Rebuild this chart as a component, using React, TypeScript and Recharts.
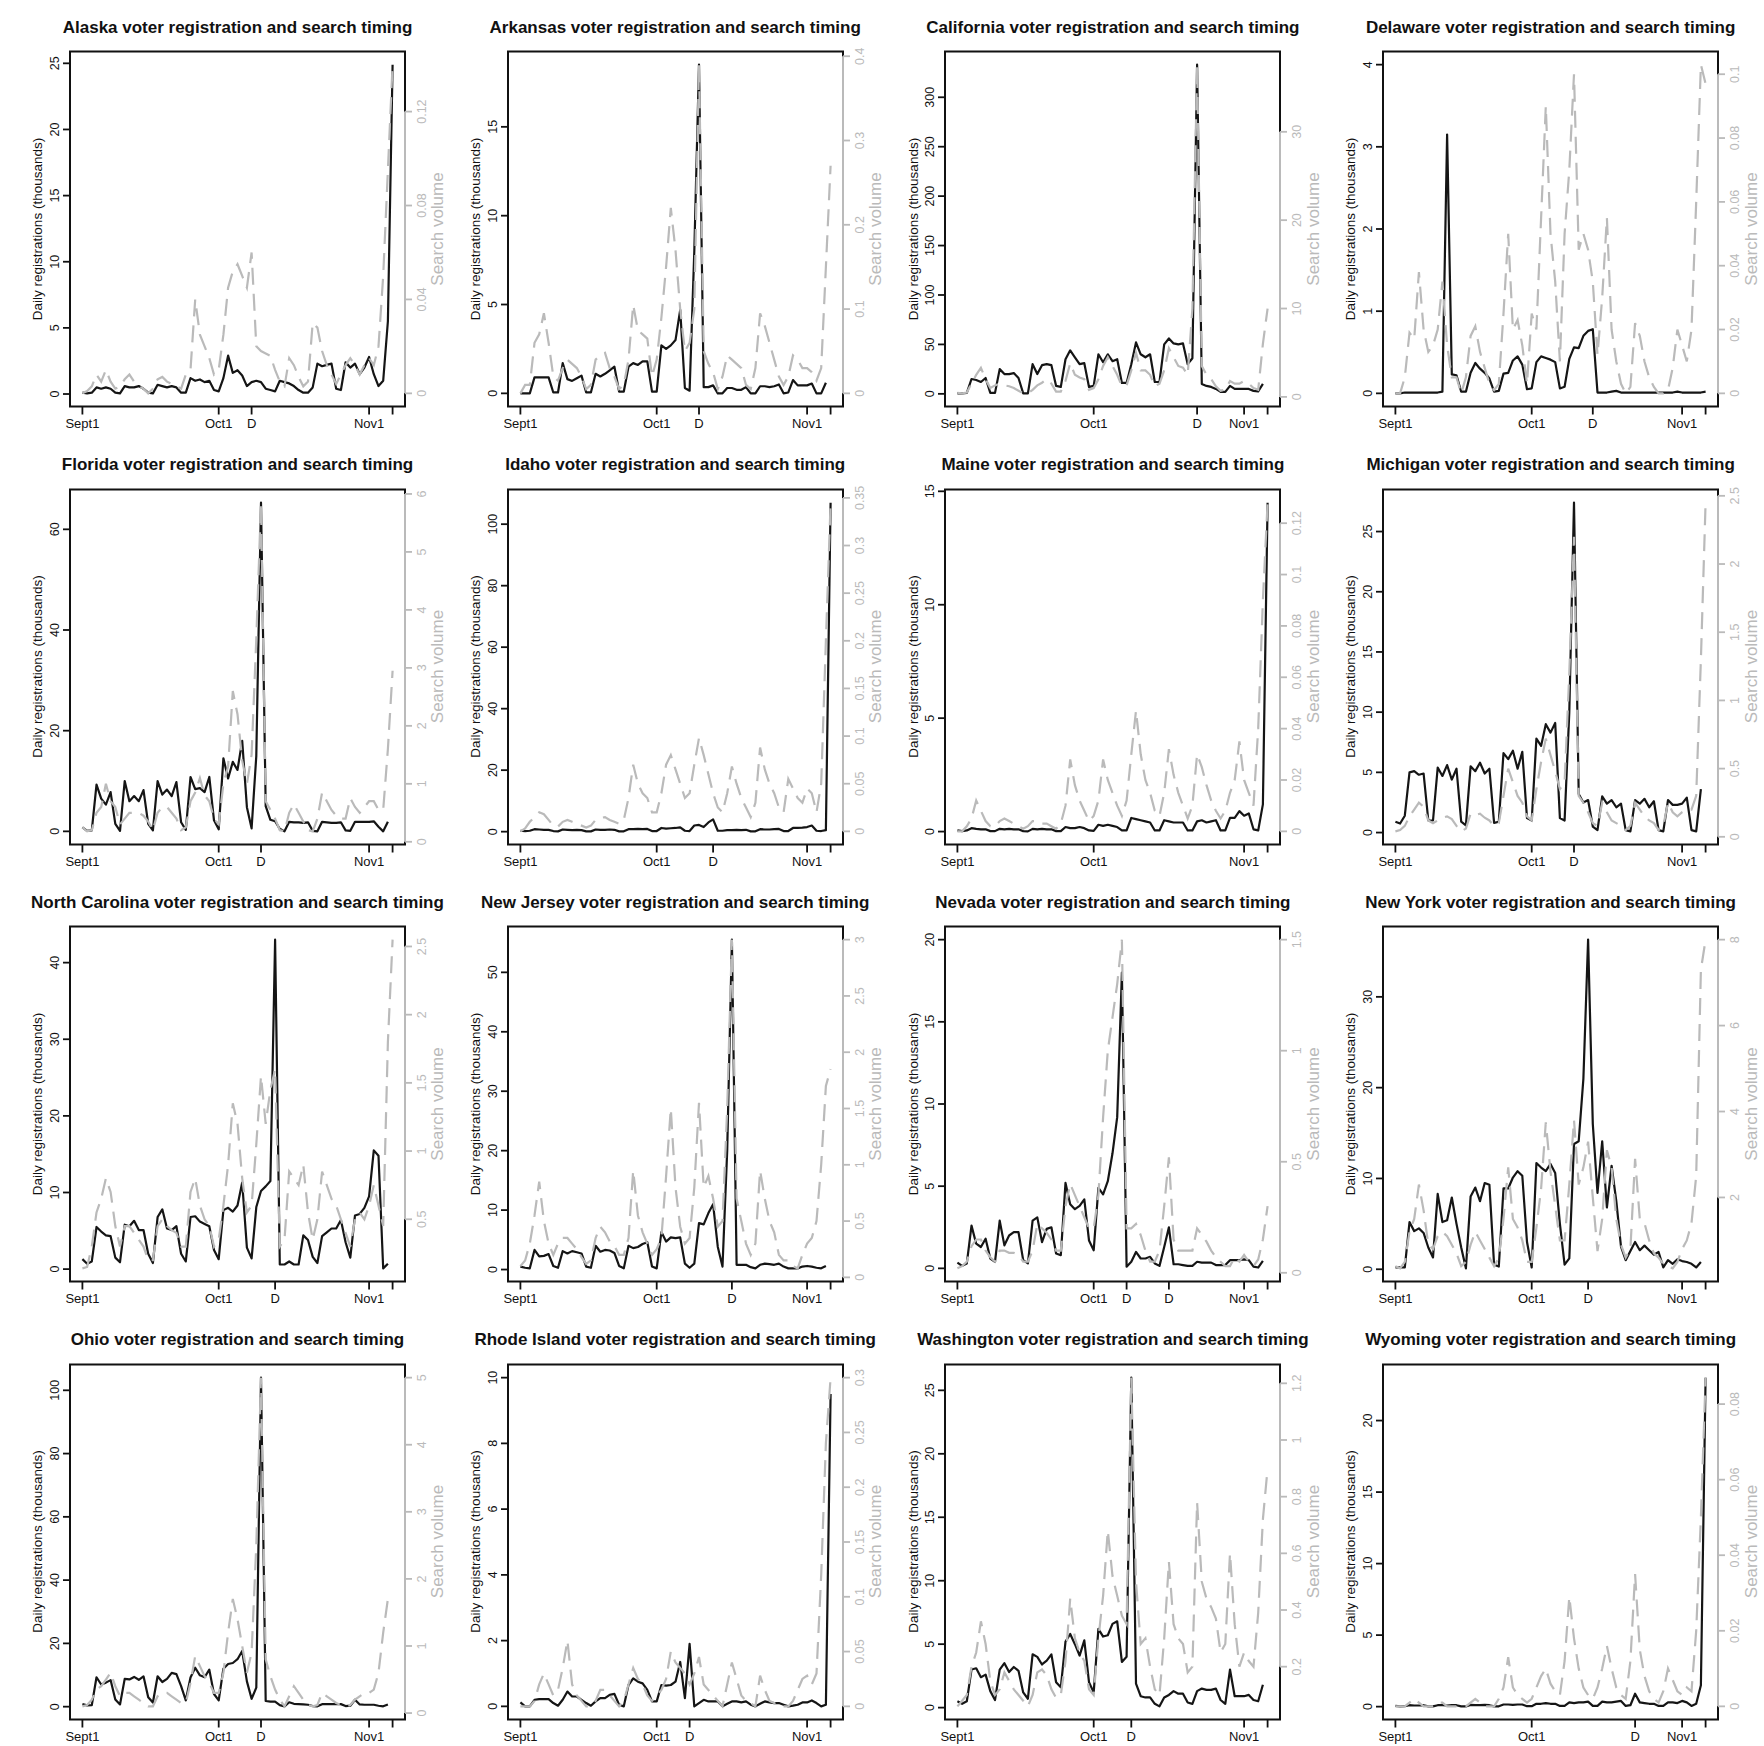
import React from 'react';
import { LineChart, Line, XAxis, YAxis, ReferenceArea, ReferenceLine } from 'recharts';

const FONT = '"Liberation Sans", Arial, Helvetica, sans-serif';
const GRAY = '#bababa';

// day index: 0 = Sept 1 ... 66 = Nov 6
const DAYS = Array.from({ length: 67 }, (_, i) => i);
const SEPT1 = 0;
const OCT1 = 29;
const NOV1 = 61;
const ELECTION = 66;

const alaskaReg = [0.1,0.05,0.1,0.5,0.4,0.5,0.4,0.1,0.05,0.6, 0.5,0.5,0.6,0.4,0.1,0.05,0.7,0.6,0.5,0.6, 0.5,0.1,0.1,1.2,1.0,1.1,0.9,1.0,0.3,0.2, 1.2,2.9,1.6,1.8,1.4,0.6,0.9,1.0,0.9,0.4, 0.3,0.2,1.0,0.9,0.8,0.6,0.3,0.1,0.1,0.5, 2.3,2.1,2.2,2.3,0.4,0.3,2.4,2.0,2.3,1.5, 2.0,2.8,1.5,0.6,1.0,5.5,24.9];
const alaskaSearch = [0,0.001,0.003,0.008,0.005,0.01,0.005,0.002,0.003,0.006, 0.008,0.005,0.003,0.002,0,0.002,0.006,0.007,0.005,0.004, 0.003,0.002,0.008,0.01,0.04,0.025,0.02,0.015,0.008,0.01, 0.025,0.045,0.052,0.055,0.05,0.045,0.06,0.02,0.018,0.017, 0.016,0.01,0.005,0.003,0.015,0.012,0.007,0.003,0.005,0.03, 0.028,0.018,0.012,0.008,0.004,0.008,0.012,0.015,0.012,0.008, 0.012,0.015,0.012,0.02,0.05,0.095,0.14];
const alaskaLeftTicks = [0, 5, 10, 15, 20, 25];
const alaskaRightTicks = [0, 0.04, 0.08, 0.12];
const alaskaDeadlines = [36];

const arkansasReg = [0,0,0,0.9,0.9,0.9,0.9,0.05,0.05,1.7, 0.8,0.7,0.85,1.0,0.05,0.05,1.1,0.95,1.1,1.3, 1.5,0.1,0.1,1.5,1.7,1.6,1.8,1.8,0.1,0.1, 2.7,2.5,2.7,3.0,4.7,0.3,0.15,8.0,18.5,0.35, 0.35,0.45,0,0,0.3,0.3,0.2,0.2,0.35,0, 0,0.4,0.4,0.35,0.4,0.5,0,0.05,0.75,0.45, 0.45,0.45,0.55,0,0,0.6,null];
const arkansasSearch = [0,0.01,0.01,0.06,0.07,0.095,0.06,0.02,0.015,0.03, 0.04,0.035,0.03,0.02,0.005,0.01,0.04,0.045,0.048,0.03, 0.02,0.005,0.01,0.04,0.105,0.075,0.07,0.065,0.02,0.04, 0.09,0.15,0.22,0.17,0.1,0.05,0.06,0.1,0.39,0.05, 0.035,0.025,0.005,0.02,0.045,0.04,0.035,0.03,0.01,0.005, 0.03,0.095,0.08,0.06,0.04,0.02,0.01,0.02,0.045,0.04, 0.03,0.03,0.025,0.015,0.03,0.15,0.27];
const arkansasLeftTicks = [0, 5, 10, 15];
const arkansasRightTicks = [0, 0.1, 0.2, 0.3, 0.4];
const arkansasDeadlines = [38];

const californiaReg = [0.5,0.5,1,15,14,12,16,1,1,25, 20,20,21,16,0.5,0.5,30,20,29,30, 29,8,7,35,44,37,30,31,7,8, 40,32,40,33,35,11,11,30,52,40, 37,40,12,12,50,56,51,50,51,30, 36,333,10,8,7,5,2,2,8,5, 5,5,5,3,2.5,10,null];
const californiaSearch = [0.45,0.4,0.5,1.5,2.5,3.3,2.0,1.0,1.3,1.5, 1.3,1.2,1.0,0.7,0.4,0.4,0.8,1.3,1.6,2.0, 1.5,0.6,0.6,1.8,3.8,2.5,2.2,2.0,0.8,1.0, 2.0,3.5,4.5,3.5,2.5,1.2,1.3,3.0,5.0,3.0, 3.0,2.5,1.2,1.5,3.0,5.5,4.5,3.5,3.3,2.5, 10,37.6,3.5,2.5,2.0,1.2,0.7,0.8,1.8,1.5, 1.5,1.8,1.5,1.0,0.8,6,10];
const californiaLeftTicks = [0, 50, 100, 150, 200, 250, 300];
const californiaRightTicks = [0, 10, 20, 30];
const californiaDeadlines = [51];

const delawareReg = [0,0,0.01,0.01,0.01,0.01,0.01,0.01,0.01,0.01, 0.02,3.15,0.23,0.22,0.02,0.02,0.25,0.37,0.3,0.25, 0.18,0.02,0.03,0.24,0.25,0.4,0.45,0.35,0.05,0.06, 0.38,0.45,0.43,0.41,0.38,0.06,0.08,0.42,0.56,0.55, 0.7,0.76,0.78,0.01,0.01,0.01,0.02,0.03,0.01,0.01, 0.01,0.01,0.01,0.01,0.01,0.01,0.01,0.01,0.01,0.01, 0.02,0.01,0.01,0.01,0.01,0.01,0.02];
const delawareSearch = [0,0,0.005,0.019,0.017,0.038,0.02,0.013,0.015,0.02, 0.035,0.015,0.005,0.005,0,0.005,0.018,0.021,0.013,0.008, 0.003,0.001,0.003,0.025,0.05,0.02,0.023,0.015,0.003,0.025, 0.02,0.055,0.09,0.05,0.035,0.01,0.05,0.07,0.1,0.045, 0.05,0.045,0.035,0.012,0.03,0.055,0.02,0.01,0.003,0, 0.002,0.022,0.018,0.01,0.005,0.002,0,0,0.001,0.008, 0.02,0.015,0.01,0.02,0.06,0.103,0.097];
const delawareLeftTicks = [0, 1, 2, 3, 4];
const delawareRightTicks = [0, 0.02, 0.04, 0.06, 0.08, 0.1];
const delawareDeadlines = [42];
const delawareLeftLimits: [number, number] = [0, 4];

const floridaReg = [0.8,0.1,0.2,9.3,6.5,5.3,7.8,1.5,0.1,10.0, 6.0,7.0,6.0,8.2,1.5,0.2,10.0,7.3,8.3,7.0, 9.8,1.8,0.3,10.8,8.4,8.6,7.8,10.8,2.2,0.4, 14.5,10.5,13.8,12.2,18.0,4.8,0.6,15,65.3,5.0, 2.3,2.0,0.5,0,1.9,1.8,1.8,1.7,1.8,0.1, 0,1.9,1.8,1.7,1.7,1.8,0.2,0.1,1.9,1.9, 1.9,1.9,2.0,0.9,0,1.9,null];
const floridaSearch = [0.25,0.18,0.2,0.5,0.6,1.0,0.7,0.6,0.3,0.4, 0.5,0.5,0.5,0.45,0.35,0.2,0.5,0.6,0.6,0.5, 0.4,0.2,0.25,0.7,0.85,1.1,0.8,0.7,0.4,0.3, 1.0,1.3,2.6,2.2,1.4,1.0,1.5,3.5,5.85,0.7, 0.55,0.4,0.2,0.18,0.5,0.65,0.5,0.35,0.2,0.18, 0.4,0.85,0.7,0.55,0.45,0.4,0.4,0.75,0.6,0.5, 0.6,0.7,0.7,0.55,0.55,1.6,2.95];
const floridaLeftTicks = [0, 20, 40, 60];
const floridaRightTicks = [0, 1, 2, 3, 4, 5, 6];
const floridaDeadlines = [38];

const idahoReg = [0.3,0.2,0.3,0.8,0.7,0.6,0.6,0.2,0.1,0.7, 0.6,0.5,0.6,0.5,0.1,0.1,0.7,0.6,0.6,0.7, 0.6,0.1,0.1,0.8,0.8,0.9,0.8,0.9,0.2,0.2, 1.2,1.0,1.1,1.2,1.4,0.3,0.2,2.0,2.2,1.5, 3.0,4.0,0.3,0.3,0.5,0.5,0.6,0.5,0.6,0.1, 0.1,0.8,0.7,0.7,0.8,0.9,0.2,0.2,1.2,1.2, 1.3,1.5,2.0,0.3,0.2,0.5,107];
const idahoSearch = [0,0.003,0.01,0.015,0.02,0.018,0.012,0.006,0.005,0.01, 0.012,0.01,0.008,0.006,0.004,0.006,0.012,0.014,0.015,0.012, 0.01,0.008,0.012,0.035,0.07,0.05,0.04,0.035,0.02,0.02, 0.04,0.07,0.08,0.065,0.05,0.035,0.04,0.07,0.098,0.08, 0.06,0.04,0.025,0.02,0.04,0.068,0.05,0.035,0.025,0.015, 0.03,0.088,0.065,0.05,0.04,0.025,0.02,0.055,0.045,0.035, 0.03,0.045,0.04,0.02,0.05,0.2,0.345];
const idahoLeftTicks = [0, 20, 40, 60, 80, 100];
const idahoRightTicks = [0, 0.05, 0.1, 0.15, 0.2, 0.25, 0.3, 0.35];
const idahoDeadlines = [41];

const maineReg = [0.05,0.02,0.05,0.15,0.12,0.1,0.1,0.02,0.02,0.12, 0.1,0.12,0.1,0.1,0.02,0.01,0.12,0.1,0.12,0.1, 0.1,0.02,0.02,0.2,0.15,0.15,0.2,0.15,0.05,0.03, 0.3,0.25,0.3,0.25,0.2,0.05,0.05,0.6,0.55,0.5, 0.45,0.4,0.05,0.05,0.5,0.45,0.4,0.4,0.4,0.05, 0.05,0.45,0.5,0.4,0.45,0.5,0.05,0.05,0.6,0.6, 0.9,0.7,0.8,0.1,0.05,1.2,14.5];
const maineSearch = [0,0,0.002,0.005,0.012,0.008,0.004,0.002,0.002,0.004, 0.005,0.004,0.003,0.002,0.001,0.002,0.004,0.004,0.003,0.003, 0.002,0.001,0.003,0.01,0.028,0.018,0.012,0.008,0.004,0.006, 0.012,0.028,0.02,0.015,0.01,0.006,0.012,0.03,0.047,0.03, 0.02,0.015,0.008,0.006,0.015,0.032,0.022,0.015,0.01,0.005, 0.01,0.03,0.025,0.018,0.012,0.008,0.005,0.008,0.015,0.02, 0.035,0.02,0.015,0.01,0.04,0.09,0.128];
const maineLeftTicks = [0, 5, 10, 15];
const maineRightTicks = [0, 0.02, 0.04, 0.06, 0.08, 0.1, 0.12];
const maineDeadlines: number[] = [];

const michiganReg = [0.9,0.75,1.4,5.0,5.1,4.8,4.9,1.0,1.0,5.4, 4.7,5.6,4.4,5.3,0.9,0.6,5.5,5.1,5.8,4.9, 5.3,0.8,0.9,6.6,6.1,6.8,5.3,6.7,1.2,1.0, 7.8,7.2,9.0,8.3,9.1,1.2,1.0,10,27.4,3.2, 2.5,2.7,0.5,0.2,3.0,2.4,2.7,2.1,2.4,0.2, 0.1,2.7,2.4,2.8,2.1,2.6,0.2,0.1,2.7,2.3, 2.3,2.4,2.9,0.2,0.1,3.6,null];
const michiganSearch = [0.04,0.05,0.08,0.15,0.2,0.25,0.22,0.12,0.1,0.12, 0.14,0.15,0.13,0.08,0.04,0.06,0.17,0.16,0.17,0.14, 0.12,0.08,0.1,0.3,0.5,0.4,0.3,0.25,0.15,0.12, 0.35,0.55,0.72,0.6,0.48,0.35,0.4,1.2,2.2,0.3, 0.25,0.18,0.1,0.08,0.25,0.18,0.12,0.1,0.08,0.05, 0.08,0.25,0.2,0.15,0.12,0.1,0.05,0.08,0.25,0.18, 0.15,0.18,0.2,0.2,0.3,1.3,2.45];
const michiganLeftTicks = [0, 5, 10, 15, 20, 25];
const michiganRightTicks = [0, 0.5, 1, 1.5, 2, 2.5];
const michiganDeadlines = [38];

const northCarolinaReg = [1.3,0.7,1.0,5.5,4.9,4.4,4.3,1.5,0.9,5.8, 5.6,6.3,5.1,5.1,2.0,0.8,6.8,7.8,5.3,5.1, 5.6,2.0,1.0,6.8,6.9,6.2,5.9,5.6,2.5,1.3, 7.7,8.0,7.5,8.3,11.3,2.8,1.4,8.1,10.2,10.8, 11.5,43,0.6,0.6,1.0,0.6,0.6,4.4,3.8,1.6, 0.8,4.3,4.8,5.3,5.3,6.4,3.5,1.5,7.0,7.2, 8.0,9.5,15.5,14.8,0.1,0.7,null];
const northCarolinaSearch = [0.14,0.15,0.3,0.55,0.65,0.8,0.7,0.45,0.3,0.45, 0.45,0.4,0.35,0.3,0.2,0.2,0.45,0.5,0.45,0.42, 0.4,0.3,0.3,0.7,0.8,0.6,0.5,0.45,0.3,0.35, 0.6,0.9,1.35,1.2,0.8,0.55,0.6,1.05,1.55,1.2, 1.45,1.6,0.3,0.35,0.85,0.8,0.75,0.9,0.55,0.35, 0.5,0.85,0.75,0.65,0.6,0.5,0.4,0.3,0.5,0.55, 0.5,0.6,0.75,0.6,0.45,1.8,2.55];
const northCarolinaLeftTicks = [0, 10, 20, 30, 40];
const northCarolinaRightTicks = [0.5, 1, 1.5, 2, 2.5];
const northCarolinaDeadlines = [41];

const newJerseyReg = [0.5,0.3,0.2,3.3,2.2,2.3,2.6,0.6,0.3,3.1, 2.7,3.1,2.9,2.7,0.5,0.3,4.0,3.0,3.3,3.2, 2.8,0.6,0.2,4.0,3.6,3.8,4.3,4.6,0.5,0.2, 6.3,4.7,5.4,5.3,5.4,1.0,0.3,1.0,7.8,7.6, 9.5,11.0,3.8,0.5,20,55.5,0.8,0.8,0.8,0.4, 0.2,0.8,1.0,0.9,0.8,1.0,0.5,0.2,0.2,0.2, 0.5,0.6,0.5,0.3,0.2,0.6,null];
const newJerseySearch = [0.1,0.15,0.3,0.55,0.85,0.5,0.3,0.2,0.3,0.35, 0.35,0.3,0.25,0.18,0.12,0.15,0.35,0.45,0.4,0.32, 0.28,0.2,0.2,0.35,0.95,0.55,0.4,0.3,0.2,0.25, 0.35,0.9,1.5,0.8,0.45,0.3,0.35,0.8,1.55,0.8, 0.9,0.7,0.45,0.5,1.5,3.0,0.7,0.5,0.3,0.2, 0.3,0.95,0.7,0.5,0.4,0.2,0.15,0.15,0.1,0.08, 0.2,0.3,0.35,0.5,1.0,1.7,1.85];
const newJerseyLeftTicks = [0, 10, 20, 30, 40, 50];
const newJerseyRightTicks = [0, 0.5, 1, 1.5, 2, 2.5, 3];
const newJerseyDeadlines = [45];

const nevadaReg = [0.35,0.15,0.3,2.6,1.5,1.3,1.8,0.6,0.4,2.9, 1.4,2.0,2.2,2.2,0.5,0.3,2.9,3.1,1.6,2.4, 2.5,0.9,0.8,5.2,3.9,3.6,3.8,4.2,1.7,1.1, 4.9,4.5,5.3,7.0,9.2,18.0,0.1,0.4,1.0,0.6, 0.6,0.7,0.3,0.15,1.3,2.5,0.25,0.25,0.2,0.15, 0.15,0.4,0.35,0.35,0.35,0.2,0.2,0.2,0.5,0.5, 0.5,0.55,0.5,0.1,0.05,0.45,null];
const nevadaSearch = [0.02,0.03,0.05,0.12,0.15,0.15,0.1,0.07,0.05,0.1, 0.1,0.09,0.09,0.08,0.05,0.05,0.1,0.22,0.2,0.18, 0.15,0.1,0.1,0.3,0.4,0.35,0.3,0.25,0.2,0.2, 0.35,0.7,1.0,1.15,1.3,1.5,0.2,0.2,0.22,0.17, 0.1,0.05,0.05,0.1,0.3,0.52,0.15,0.1,0.1,0.1, 0.1,0.2,0.17,0.14,0.1,0.07,0.05,0.03,0.03,0.07, 0.05,0.08,0.05,0.03,0.06,0.15,0.3];
const nevadaLeftTicks = [0, 5, 10, 15, 20];
const nevadaRightTicks = [0, 0.5, 1, 1.5];
const nevadaDeadlines = [36, 45];
const nevadaLeftLimits: [number, number] = [0, 20];

const newYorkReg = [0.2,0.2,0.2,5.2,4.2,4.5,4.0,2.4,1.3,8.3, 5.2,5.4,7.9,5.0,2.4,0.1,8.0,9.0,7.5,9.5, 9.3,0.5,0.3,8.9,8.9,10.1,10.8,10.3,3.0,0.2, 11.7,11.2,10.8,11.6,10.6,5.0,0.5,1.2,13.8,14.1, 21.0,36.3,16.0,8.4,14.1,6.8,11.4,7.5,2.5,1.0, 2.0,3.0,2.1,2.6,2.1,1.6,1.9,0.2,1.0,0.6, 1.1,0.9,0.8,0.6,0.2,0.8,null];
const newYorkSearch = [0.4,0.35,0.5,1.2,1.5,2.3,1.7,0.9,0.8,1.1, 1.2,1.1,0.9,0.7,0.4,0.5,0.9,1.2,1.0,0.8, 0.6,0.4,0.6,1.5,2.7,1.5,1.3,1.0,0.5,0.5, 1.3,2.2,3.75,2.6,1.8,1.0,1.0,2.3,3.8,2.3, 2.7,3.3,2.0,0.75,1.5,3.1,2.7,1.5,0.9,0.6, 0.8,2.9,1.5,1.4,1.0,0.7,0.6,0.45,0.4,0.35, 0.5,0.8,1.0,1.4,2.5,7.3,8.0];
const newYorkLeftTicks = [0, 10, 20, 30];
const newYorkRightTicks = [2, 4, 6, 8];
const newYorkDeadlines = [41];

const ohioReg = [0.8,0.4,0.5,9.3,7.0,7.6,8.4,2.3,0.7,8.8, 8.6,9.4,8.5,9.6,3.0,1.3,9.6,7.8,8.8,10.7, 10.3,6.5,2.0,9.2,12.3,9.9,9.3,11.7,4.0,2.0, 12.0,13.5,13.8,15.0,17.6,8.0,2.5,6.0,104,1.8, 1.6,1.6,0.5,0.1,1.4,0.9,0.8,0.7,0.6,0.2, 0.1,0.8,0.8,0.8,0.8,0.8,0.2,0.3,2.2,0.7, 0.6,0.6,0.6,0.3,0.1,0.7,null];
const ohioSearch = [0.1,0.12,0.2,0.35,0.4,0.5,0.6,0.4,0.25,0.3, 0.3,0.25,0.2,0.15,0.1,0.1,0.25,0.3,0.3,0.25, 0.2,0.15,0.15,0.45,0.85,0.7,0.55,0.45,0.3,0.3, 0.6,1.2,1.7,1.4,1.0,0.6,0.9,2.5,5.0,0.8, 0.55,0.35,0.2,0.1,0.25,0.4,0.3,0.2,0.12,0.1, 0.12,0.3,0.25,0.2,0.15,0.12,0.1,0.12,0.2,0.25, 0.3,0.3,0.35,0.6,1.2,1.7,null];
const ohioLeftTicks = [0, 20, 40, 60, 80, 100];
const ohioRightTicks = [0, 1, 2, 3, 4, 5];
const ohioDeadlines = [38];

const rhodeIslandReg = [0.12,0,0,0.2,0.22,0.22,0.22,0.1,0.02,0.2, 0.45,0.3,0.3,0.2,0.1,0.02,0.15,0.25,0.25,0.35, 0.38,0.05,0,0.65,0.85,0.75,0.7,0.5,0.15,0.15, 0.65,0.63,0.65,0.75,1.35,0.25,1.9,0,0.1,0.2, 0.15,0.15,0.15,0,0.08,0.15,0.15,0.12,0.15,0.05, 0,0.08,0.15,0.12,0.1,0.1,0.05,0,0.02,0.05, 0.12,0.12,0.18,0.1,0,0.05,9.5];
const rhodeIslandSearch = [0,0,0,0.005,0.02,0.03,0.02,0.01,0.015,0.035, 0.06,0.02,0.01,0.005,0,0,0.005,0.015,0.015,0.01, 0.005,0,0.005,0.02,0.035,0.025,0.02,0.01,0.005,0.01, 0.015,0.025,0.05,0.04,0.035,0.03,0.02,0.03,0.045,0.02, 0.015,0.01,0.005,0,0.02,0.04,0.025,0.01,0.005,0.003, 0,0.028,0.015,0.005,0.003,0,0,0,0.005,0.015, 0.025,0.028,0.02,0.03,0.12,0.24,0.3];
const rhodeIslandLeftTicks = [0, 2, 4, 6, 8, 10];
const rhodeIslandRightTicks = [0, 0.05, 0.1, 0.15, 0.2, 0.25, 0.3];
const rhodeIslandDeadlines = [36];
const rhodeIslandLeftLimits: [number, number] = [0, 10];

const washingtonReg = [0.5,0.3,0.5,3.0,3.1,2.4,2.6,1.3,0.6,3.0, 3.5,2.8,3.2,2.9,1.2,0.7,4.2,4.0,3.4,3.7, 4.2,2.0,1.6,5.2,5.8,5.0,4.1,5.3,2.0,1.2, 6.2,5.6,5.7,6.6,6.8,3.6,4.0,26,1.9,0.9, 0.8,0.8,0.3,0.1,0.8,1.0,1.3,1.1,1.1,0.4, 0.3,1.3,1.5,1.4,1.4,1.5,0.6,0.3,3.0,0.9, 0.9,0.9,1.0,0.6,0.5,1.8,null];
const washingtonSearch = [0.06,0.08,0.1,0.2,0.25,0.36,0.28,0.15,0.1,0.12, 0.18,0.15,0.12,0.1,0.08,0.06,0.1,0.18,0.19,0.17, 0.12,0.09,0.1,0.22,0.44,0.3,0.25,0.22,0.12,0.1, 0.3,0.45,0.68,0.52,0.45,0.38,0.35,1.22,0.5,0.28, 0.3,0.2,0.12,0.1,0.3,0.57,0.35,0.3,0.28,0.18, 0.2,0.78,0.5,0.44,0.41,0.37,0.25,0.28,0.6,0.35, 0.2,0.25,0.22,0.2,0.39,0.72,0.9];
const washingtonLeftTicks = [0, 5, 10, 15, 20, 25];
const washingtonRightTicks = [0.2, 0.4, 0.6, 0.8, 1, 1.2];
const washingtonDeadlines = [37];

const wyomingReg = [0.05,0.02,0.03,0.1,0.08,0.08,0.1,0.02,0.02,0.1, 0.1,0.08,0.1,0.1,0.02,0.02,0.12,0.1,0.1,0.12, 0.1,0.02,0.02,0.15,0.15,0.12,0.15,0.15,0.03,0.03, 0.2,0.2,0.25,0.2,0.2,0.05,0.05,0.3,0.25,0.3, 0.3,0.35,0.05,0.05,0.35,0.3,0.3,0.35,0.4,0.05, 0.1,0.9,0.3,0.25,0.2,0.2,0.05,0.05,0.3,0.3, 0.25,0.4,0.3,0.05,0.2,1.5,23];
const wyomingSearch = [0,0,0,0.001,0.002,0.001,0,0,0,0.001, 0.001,0,0,0,0,0,0.001,0.002,0.001,0, 0,0,0.002,0.005,0.013,0.005,0.003,0.002,0.001,0.002, 0.005,0.008,0.01,0.006,0.004,0.003,0.012,0.029,0.018,0.01, 0.005,0.003,0.002,0.005,0.01,0.016,0.01,0.005,0.003,0.002, 0.012,0.035,0.015,0.008,0.004,0.002,0.001,0.004,0.01,0.007, 0.004,0.003,0.005,0.004,0.02,0.05,0.087];
const wyomingLeftTicks = [0, 5, 10, 15, 20];
const wyomingRightTicks = [0, 0.02, 0.04, 0.06, 0.08];
const wyomingDeadlines = [51];

type PanelDef = {
  state: string;
  reg: (number | null)[];
  search: (number | null)[];
  leftTicks: number[];
  rightTicks: number[];
  deadlines: number[];
  leftLimits?: [number, number];
};

const PANELS: PanelDef[] = [
  { state: 'Alaska', reg: alaskaReg, search: alaskaSearch, leftTicks: alaskaLeftTicks, rightTicks: alaskaRightTicks, deadlines: alaskaDeadlines },
  { state: 'Arkansas', reg: arkansasReg, search: arkansasSearch, leftTicks: arkansasLeftTicks, rightTicks: arkansasRightTicks, deadlines: arkansasDeadlines },
  { state: 'California', reg: californiaReg, search: californiaSearch, leftTicks: californiaLeftTicks, rightTicks: californiaRightTicks, deadlines: californiaDeadlines },
  { state: 'Delaware', reg: delawareReg, search: delawareSearch, leftTicks: delawareLeftTicks, rightTicks: delawareRightTicks, deadlines: delawareDeadlines, leftLimits: delawareLeftLimits },
  { state: 'Florida', reg: floridaReg, search: floridaSearch, leftTicks: floridaLeftTicks, rightTicks: floridaRightTicks, deadlines: floridaDeadlines },
  { state: 'Idaho', reg: idahoReg, search: idahoSearch, leftTicks: idahoLeftTicks, rightTicks: idahoRightTicks, deadlines: idahoDeadlines },
  { state: 'Maine', reg: maineReg, search: maineSearch, leftTicks: maineLeftTicks, rightTicks: maineRightTicks, deadlines: maineDeadlines },
  { state: 'Michigan', reg: michiganReg, search: michiganSearch, leftTicks: michiganLeftTicks, rightTicks: michiganRightTicks, deadlines: michiganDeadlines },
  { state: 'North Carolina', reg: northCarolinaReg, search: northCarolinaSearch, leftTicks: northCarolinaLeftTicks, rightTicks: northCarolinaRightTicks, deadlines: northCarolinaDeadlines },
  { state: 'New Jersey', reg: newJerseyReg, search: newJerseySearch, leftTicks: newJerseyLeftTicks, rightTicks: newJerseyRightTicks, deadlines: newJerseyDeadlines },
  { state: 'Nevada', reg: nevadaReg, search: nevadaSearch, leftTicks: nevadaLeftTicks, rightTicks: nevadaRightTicks, deadlines: nevadaDeadlines, leftLimits: nevadaLeftLimits },
  { state: 'New York', reg: newYorkReg, search: newYorkSearch, leftTicks: newYorkLeftTicks, rightTicks: newYorkRightTicks, deadlines: newYorkDeadlines },
  { state: 'Ohio', reg: ohioReg, search: ohioSearch, leftTicks: ohioLeftTicks, rightTicks: ohioRightTicks, deadlines: ohioDeadlines },
  { state: 'Rhode Island', reg: rhodeIslandReg, search: rhodeIslandSearch, leftTicks: rhodeIslandLeftTicks, rightTicks: rhodeIslandRightTicks, deadlines: rhodeIslandDeadlines, leftLimits: rhodeIslandLeftLimits },
  { state: 'Washington', reg: washingtonReg, search: washingtonSearch, leftTicks: washingtonLeftTicks, rightTicks: washingtonRightTicks, deadlines: washingtonDeadlines },
  { state: 'Wyoming', reg: wyomingReg, search: wyomingSearch, leftTicks: wyomingLeftTicks, rightTicks: wyomingRightTicks, deadlines: wyomingDeadlines },
];

// layout
const COL_PITCH = 437.7;
const ROW_PITCH = 437.5;
const CHART_W = 437;
const CHART_H = 437;
const PLOT_LEFT = 70;
const PLOT_TOP = 51.5;
const PLOT_W = 335;
const PLOT_H = 355;
const RIGHT_AXIS_W = CHART_W - PLOT_LEFT - PLOT_W;
const X_AXIS_H = CHART_H - PLOT_TOP - PLOT_H;

// R-style 4% padding on each side of the range
function padLimits(mn: number, mx: number): [number, number] {
  const r = mx - mn;
  return [mn - 0.04 * r, mx + 0.04 * r];
}
function paddedRange(vals: (number | null)[], limits?: [number, number]): [number, number] {
  if (limits) return padLimits(limits[0], limits[1]);
  const v = vals.filter((x): x is number => x !== null && x !== undefined);
  return padLimits(Math.min(...v), Math.max(...v));
}
const X_DOMAIN: [number, number] = padLimits(SEPT1, ELECTION);

const LeftTick = (props: any) => {
  const { x, y, payload } = props;
  return (
    <text x={x} y={y} transform={`rotate(-90 ${x} ${y})`} textAnchor="middle" fontSize={12.5} fontFamily={FONT} fill="#111">
      {String(payload.value)}
    </text>
  );
};

const RightTick = (props: any) => {
  const { x, y, payload } = props;
  const bx = x + 8.8;
  return (
    <text x={bx} y={y} transform={`rotate(-90 ${bx} ${y})`} textAnchor="middle" fontSize={12.5} fontFamily={FONT} fill={GRAY}>
      {String(payload.value)}
    </text>
  );
};

function Panel({ p, col, row }: { p: PanelDef; col: number; row: number }) {
  const data = DAYS.map((d, i) => ({ d, reg: p.reg[i] ?? null, search: p.search[i] ?? null }));
  const [lmin, lmax] = paddedRange(p.reg, p.leftLimits);
  const [rmin, rmax] = paddedRange(p.search);
  const labels: Record<number, string> = { [SEPT1]: 'Sept1', [OCT1]: 'Oct1', [NOV1]: 'Nov1', [ELECTION]: '' };
  p.deadlines.forEach((d) => (labels[d] = 'D'));
  const xTicks = [SEPT1, OCT1, ...p.deadlines, NOV1, ELECTION].sort((a, b) => a - b);
  const BottomTick = (props: any) => {
    const { x, y, payload } = props;
    return (
      <text x={x} y={y + 11.6} textAnchor="middle" fontSize={13} fontFamily={FONT} fill="#111">
        {labels[payload.value] ?? ''}
      </text>
    );
  };
  const rt = p.rightTicks;
  return (
    <div style={{ position: 'absolute', left: col * COL_PITCH, top: row * ROW_PITCH }}>
      <LineChart width={CHART_W} height={CHART_H} data={data} margin={{ top: PLOT_TOP, right: 0, bottom: 0, left: 0 }}>
        <XAxis
          dataKey="d"
          type="number"
          domain={X_DOMAIN}
          allowDataOverflow
          ticks={xTicks}
          interval={0}
          height={X_AXIS_H}
          tickSize={8}
          tickMargin={2}
          axisLine={false}
          tickLine={{ stroke: '#111', strokeWidth: 1.8 }}
          tick={BottomTick}
        />
        <YAxis
          yAxisId="left"
          type="number"
          domain={[lmin, lmax]}
          allowDataOverflow
          ticks={p.leftTicks}
          interval={0}
          width={PLOT_LEFT}
          tickSize={7}
          tickMargin={4}
          axisLine={false}
          tickLine={{ stroke: '#111', strokeWidth: 1.8 }}
          tick={LeftTick}
        />
        <YAxis
          yAxisId="right"
          orientation="right"
          type="number"
          domain={[rmin, rmax]}
          allowDataOverflow
          ticks={rt}
          interval={0}
          width={RIGHT_AXIS_W}
          tickSize={7}
          tickMargin={5}
          axisLine={false}
          tickLine={{ stroke: GRAY, strokeWidth: 1.8 }}
          tick={RightTick}
        />
        <ReferenceArea
          yAxisId="left"
          x1={X_DOMAIN[0]}
          x2={X_DOMAIN[1]}
          y1={lmin}
          y2={lmax}
          fill="none"
          fillOpacity={0}
          stroke="#111"
          strokeWidth={2}
          ifOverflow="visible"
        />
        <ReferenceLine
          yAxisId="right"
          segment={[{ x: X_DOMAIN[1], y: rt[0] }, { x: X_DOMAIN[1], y: rt[rt.length - 1] }]}
          stroke={GRAY}
          strokeWidth={2}
          ifOverflow="visible"
        />
        <Line
          yAxisId="left"
          type="linear"
          dataKey="reg"
          stroke="#151515"
          strokeWidth={2.2}
          strokeLinejoin="round"
          dot={false}
          activeDot={false}
          isAnimationActive={false}
        />
        <Line
          yAxisId="right"
          type="linear"
          dataKey="search"
          stroke={GRAY}
          strokeWidth={2.2}
          strokeDasharray="17 9"
          dot={false}
          activeDot={false}
          isAnimationActive={false}
        />
      </LineChart>
    </div>
  );
}

function Labels() {
  return (
    <svg width={1764} height={1746} style={{ position: 'absolute', left: 0, top: 0, pointerEvents: 'none' }}>
      {PANELS.map((p, i) => {
        const col = i % 4;
        const row = Math.floor(i / 4);
        const bl = col * COL_PITCH + PLOT_LEFT;
        const br = bl + PLOT_W;
        const bt = row * ROW_PITCH + PLOT_TOP;
        const cx = (bl + br) / 2;
        const cy = bt + PLOT_H / 2;
        const lx = bl - 27.7;
        const rx = br + 38.4;
        return (
          <g key={p.state} fontFamily={FONT}>
            <text x={cx} y={bt - 19} textAnchor="middle" fontSize={17} fontWeight="bold" fill="#111">
              {`${p.state} voter registration and search timing`}
            </text>
            <text x={lx} y={cy} transform={`rotate(-90 ${lx} ${cy})`} textAnchor="middle" fontSize={13.5} fill="#111">
              Daily registrations (thousands)
            </text>
            <text x={rx} y={cy} transform={`rotate(-90 ${rx} ${cy})`} textAnchor="middle" fontSize={17} fill={GRAY}>
              Search volume
            </text>
          </g>
        );
      })}
    </svg>
  );
}

export default function App() {
  return (
    <div style={{ position: 'absolute', left: 0, top: 0, width: 1764, height: 1746, overflow: 'hidden', background: '#fff' }}>
      {PANELS.map((p, i) => (
        <Panel key={p.state} p={p} col={i % 4} row={Math.floor(i / 4)} />
      ))}
      <Labels />
    </div>
  );
}
